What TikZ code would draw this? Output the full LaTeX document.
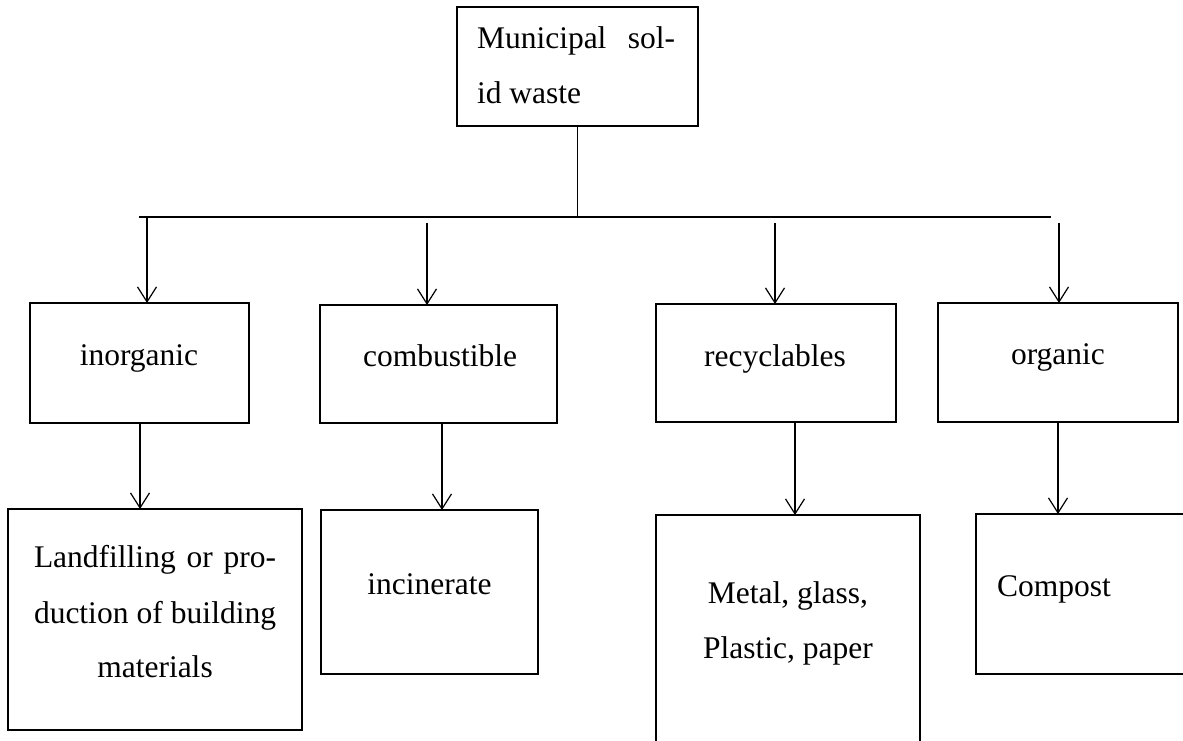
\documentclass[tikz,border=0pt]{standalone}
\usepackage{fontspec}
\setmainfont{Liberation Serif}
\usetikzlibrary{arrows.meta}
\tikzset{
  boxnode/.style={draw=black, line width=2.8pt, rectangle, inner sep=0pt, outer sep=0pt},
  txt/.style={inner sep=0pt, outer sep=0pt, anchor=base, font=\fontsize{31.5}{38}\selectfont},
  txtl/.style={txt, anchor=base west},
  conn/.style={draw=black, line width=1.2pt},
  arr/.style={conn, -{Straight Barb[length=15pt,width=19pt,line width=1.2pt]}},
}
\begin{document}
\begin{tikzpicture}[x=1pt,y=-1pt]
\useasboundingbox (0,0) rectangle (1183,740);
\clip (0,0) rectangle (1183,740);
\fill[white] (0,0) rectangle (1183,740);
% boxes
\node[boxnode, minimum width=241pt, minimum height=119pt] (top) at (577.5,66.5) {};
\node[boxnode, minimum width=219pt, minimum height=120pt] (inorg) at (139.5,363) {};
\node[boxnode, minimum width=237pt, minimum height=118pt] (comb) at (438.5,364) {};
\node[boxnode, minimum width=240pt, minimum height=118pt] (recy) at (776,363) {};
\node[boxnode, minimum width=240pt, minimum height=119pt] (organ) at (1058,362.5) {};
\node[boxnode, minimum width=294pt, minimum height=221pt] (land) at (155,619.5) {};
\node[boxnode, minimum width=217pt, minimum height=164pt] (incin) at (429.5,592) {};
\node[boxnode, minimum width=264pt, minimum height=245pt] (metal) at (788,637.5) {};
\node[boxnode, minimum width=219pt, minimum height=160pt] (compost) at (1085.5,594) {};
% texts
\node[txtl] (t1) at (477,48) {\makebox[198pt][s]{Municipal sol-}};
\node[txtl] (t2) at (477,103) {id waste};
\node[txt] (tinorg) at (139,365) {inorganic};
\node[txt] (tcomb) at (440,366) {combustible};
\node[txt] (trecy) at (775,366) {recyclables};
\node[txt] (torgan) at (1058,364) {organic};
\node[txt] (tl1) at (155,567) {\makebox[242pt][s]{Landfilling or pro-}};
\node[txt] (tl2) at (155,623) {\makebox[242pt][s]{duction of building}};
\node[txt] (tl3) at (155,677) {materials};
\node[txt] (tinc) at (429.5,594) {incinerate};
\node[txt] (tm1) at (788,603) {Metal, glass,};
\node[txt] (tm2) at (788,658) {Plastic, paper};
\node[txtl] (tcomp) at (997,596) {Compost};
% bus
\coordinate (busL) at (139,217);
\coordinate (busR) at (1051,217);
\coordinate (busM) at (top.south |- busL);
\draw[conn] (busL) -- (busR);
\draw[conn] (top.south) -- (busM);
% arrows to category boxes
\coordinate (s1) at (147,217);
\coordinate (s2) at (427,223);
\coordinate (s3) at (775,223);
\coordinate (s4) at (1059,223);
\draw[arr] (s1) -- (s1 |- inorg.north);
\draw[arr] (s2) -- (s2 |- comb.north);
\draw[arr] (s3) -- (s3 |- recy.north);
\draw[arr] (s4) -- (s4 |- organ.north);
% arrows to treatment boxes
\coordinate (d1) at (140,0);
\coordinate (d2) at (442,0);
\coordinate (d3) at (795,0);
\coordinate (d4) at (1058,0);
\draw[arr] (d1 |- inorg.south) -- (d1 |- land.north);
\draw[arr] (d2 |- comb.south) -- (d2 |- incin.north);
\draw[arr] (d3 |- recy.south) -- (d3 |- metal.north);
\draw[arr] (d4 |- organ.south) -- (d4 |- compost.north);
\end{tikzpicture}
\end{document}
